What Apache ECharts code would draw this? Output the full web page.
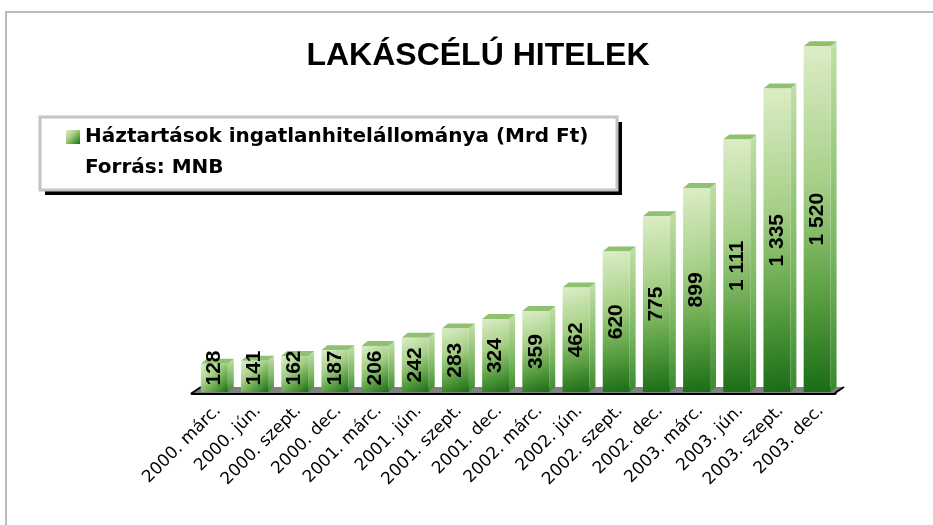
<!DOCTYPE html>
<html>
<head>
<meta charset="utf-8">
<title>Lakáscélú hitelek</title>
<script src="https://cdn.jsdelivr.net/npm/echarts@6.0.0/dist/echarts.min.js"></script>
<style>
html, body { margin: 0; padding: 0; background: #fff; }
#chart { width: 933px; height: 525px; }
</style>
</head>
<body>
<div id="chart"></div>
<script>
// negyedéves időpontok
var categories = ['2000. márc.', '2000. jún.', '2000. szept.', '2000. dec.',
  '2001. márc.', '2001. jún.', '2001. szept.', '2001. dec.',
  '2002. márc.', '2002. jún.', '2002. szept.', '2002. dec.',
  '2003. márc.', '2003. jún.', '2003. szept.', '2003. dec.']
// Mrd Ft
var values = [128, 141, 162, 187, 206, 242, 283, 324, 359, 462, 620, 775, 899, 1111, 1335, 1520]
var seriesName = 'Háztartások ingatlanhitelállománya (Mrd Ft)'
var sourceText = 'Forrás: MNB'
var titleText = 'LAKÁSCÉLÚ HITELEK'

var DX = 6, DY = 5 // oszlop mélysége
var FX = 9, FY = 6 // padló mélysége

function fmt (v) {
  return String(v).replace(/\B(?=(\d{3})+(?!\d))/g, ' ')
}

var frontColor = new echarts.graphic.LinearGradient(0, 0, 1, 1, [
  { offset: 0, color: '#dcedc6' },
  { offset: 0.4, color: '#a6cf86' },
  { offset: 0.72, color: '#5a9f42' },
  { offset: 1, color: '#1a6c16' }
])
var sideColor = new echarts.graphic.LinearGradient(0, 0, 0, 1, [
  { offset: 0, color: '#c2dfa8' },
  { offset: 0.6, color: '#7ab661' },
  { offset: 1, color: '#3a892f' }
])

function renderFloor (params, api) {
  var idx = api.value(0)
  var c = api.coord([idx, 0])
  var band = api.size([1, 0])[0]
  var x1 = c[0] - band / 2
  var x2 = c[0] + band / 2
  var y = c[1]
  var children = [{
    type: 'polygon',
    shape: { points: [[x1 - 0.5, y], [x2 + 0.5, y], [x2 + FX + 0.5, y - FY], [x1 + FX - 0.5, y - FY]] },
    style: { fill: '#7f7f7f' }
  }]
  if (idx === 0) {
    children.push({ type: 'line', shape: { x1: x1, y1: y, x2: x1 + FX, y2: y - FY }, style: { stroke: '#000', lineWidth: 2 } })
  }
  if (idx === values.length - 1) {
    children.push({ type: 'line', shape: { x1: x2, y1: y, x2: x2 + FX, y2: y - FY }, style: { stroke: '#000', lineWidth: 2 } })
  }
  return { type: 'group', children: children }
}

function renderBar (params, api) {
  var idx = api.value(0)
  var val = api.value(1)
  var top = api.coord([idx, val])
  var base = api.coord([idx, 0])
  var band = api.size([1, 0])[0]
  var w = band * 0.67
  var x = base[0] - band / 2 + band * 0.22
  var yT = top[1]
  var yB = base[1] - 1
  var cy = Math.min((yT + yB) / 2, yB - 24)
  return {
    type: 'group',
    children: [
      {
        type: 'polygon',
        shape: { points: [[x + w, yT], [x + w + DX, yT - DY], [x + w + DX, yB - DY], [x + w, yB]] },
        style: { fill: sideColor }
      },
      {
        type: 'polygon',
        shape: { points: [[x, yT], [x + DX, yT - DY], [x + w + DX, yT - DY], [x + w, yT]] },
        style: { fill: '#8fc170' }
      },
      {
        type: 'rect',
        shape: { x: x, y: yT, width: w, height: yB - yT },
        style: { fill: frontColor }
      },
      {
        type: 'text',
        x: x + w / 2,
        y: cy,
        rotation: Math.PI / 2,
        style: {
          text: fmt(val),
          fill: '#000',
          fontSize: 21,
          fontWeight: 'bold',
          fontFamily: 'Liberation Sans',
          align: 'center',
          verticalAlign: 'middle'
        }
      }
    ]
  }
}

var barData = values.map(function (v, i) { return [i, v] })

var myChart = echarts.init(document.getElementById('chart'))
var option = {
  animation: false,
  grid: { left: 192, right: 98, top: 28, bottom: 132 },
  legend: {
    data: [seriesName],
    left: 61,
    top: 122,
    itemWidth: 14,
    itemHeight: 14,
    icon: 'rect',
    textStyle: { fontSize: 20, fontWeight: 'bold', fontFamily: 'DejaVu Sans', color: '#000' },
    z: 10
  },
  xAxis: {
    type: 'category',
    data: categories,
    axisLine: { lineStyle: { color: '#000', width: 3 } },
    axisTick: { length: 9, lineStyle: { color: '#000', width: 2 } },
    axisLabel: {
      interval: 0,
      rotate: 45,
      margin: 9,
      verticalAlign: 'top',
      fontSize: 17,
      fontFamily: 'DejaVu Sans',
      color: '#000'
    }
  },
  yAxis: {
    type: 'value',
    min: 0,
    max: 1600,
    show: false
  },
  graphic: [
    { type: 'rect', z: 1, shape: { x: 6, y: 12, width: 940, height: 530 }, style: { fill: 'none', stroke: '#bcbcbc', lineWidth: 2 } },
    { type: 'rect', z: 5, shape: { x: 45, y: 122, width: 577, height: 73 }, style: { fill: '#000' } },
    { type: 'rect', z: 6, shape: { x: 40, y: 117, width: 577, height: 73 }, style: { fill: '#fff', stroke: '#c4c4c4', lineWidth: 3 } },
    { type: 'text', z: 10, x: 85, y: 168, style: { text: sourceText, fill: '#000', fontSize: 20, fontWeight: 'bold', fontFamily: 'DejaVu Sans', verticalAlign: 'middle' } },
    { type: 'text', z: 10, x: 478, y: 56, style: { text: titleText, fill: '#000', fontSize: 32, fontWeight: 'bold', fontFamily: 'Liberation Sans', align: 'center', verticalAlign: 'middle' } }
  ],
  series: [
    {
      type: 'custom',
      name: 'floor',
      renderItem: renderFloor,
      data: barData,
      silent: true
    },
    {
      type: 'custom',
      name: seriesName,
      renderItem: renderBar,
      itemStyle: { color: frontColor },
      data: barData
    }
  ]
}
myChart.setOption(option)
</script>
</body>
</html>
